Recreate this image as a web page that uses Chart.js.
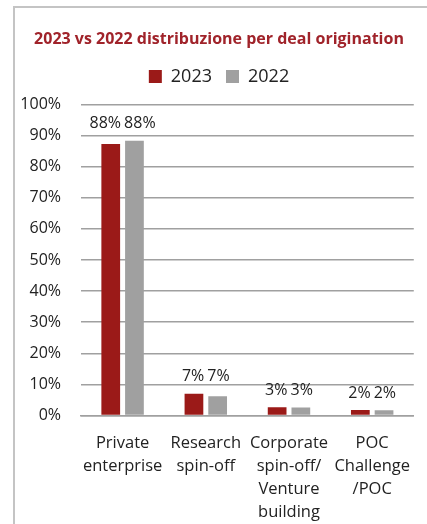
<!DOCTYPE html>
<html>
<head>
<meta charset="utf-8">
<script src="https://cdn.jsdelivr.net/npm/chart.js@4"></script>
<style>
  body { margin: 0; background: #fff; }
  #frame { position: absolute; left: 13px; top: 6px; width: 600px; height: 600px;
           border-left: 2px solid #c4c4c4; border-top: 2px solid #c4c4c4; }
  #wrap { position: absolute; left: 0; top: 0; width: 427px; height: 524px; }
</style>
</head>
<body>
<div id="frame"></div>
<div id="wrap"><canvas id="mychart"></canvas></div>
<script>
const categories = [['Private', 'enterprise'], ['Research', 'spin-off'], ['Corporate', 'spin-off/', 'Venture', 'building'], ['POC', 'Challenge', '/POC']];
const values2023 = [87.3, 7.0, 2.7, 1.8];
const values2022 = [88.3, 6.2, 2.6, 1.7];
const labels2023 = ['88%', '7%', '3%', '2%'];
const labels2022 = ['88%', '7%', '3%', '2%'];
const yTicks = [0, 10, 20, 30, 40, 50, 60, 70, 80, 90, 100];

const FONT = "'Open Sans', 'Noto Sans', sans-serif";

// value labels above each bar, same height within a group, pushed apart if they collide
const barLabels = {
    id: 'barLabels',
    afterDatasetsDraw(chart) {
        const c = chart.ctx;
        const m0 = chart.getDatasetMeta(0).data;
        const m1 = chart.getDatasetMeta(1).data;
        c.save();
        c.font = '16px ' + FONT;
        c.fillStyle = '#222';
        c.textAlign = 'center';
        c.textBaseline = 'bottom';
        for (let i = 0; i < m0.length; i++) {
            const top = Math.min(m0[i].y, m1[i].y);
            const y = top - 9;
            const w0 = c.measureText(labels2023[i]).width;
            const w1 = c.measureText(labels2022[i]).width;
            let x0 = m0[i].x, x1 = m1[i].x;
            const overlap = (x0 + w0 / 2 + 3) - (x1 - w1 / 2);
            if (overlap > 0) { x0 -= overlap / 2; x1 += overlap / 2; }
            c.fillText(labels2023[i], x0, y);
            c.fillText(labels2022[i], x1, y);
        }
        c.restore();
    }
};

const ctx = document.getElementById('mychart');
new Chart(ctx, {
    type: 'bar',
    data: {
        labels: categories,
        datasets: [{
            label: '2023',
            data: values2023,
            backgroundColor: '#9b1a18',
            barPercentage: 0.79,
            categoryPercentage: 0.57
        }, {
            label: '2022',
            data: values2022,
            backgroundColor: '#a0a0a0',
            barPercentage: 0.79,
            categoryPercentage: 0.57
        }]
    },
    options: {
        responsive: true,
        maintainAspectRatio: false,
        animation: false,
        layout: { padding: { left: 19, right: 8, top: 28, bottom: -16 } },
        plugins: {
            title: {
                display: true,
                text: '2023 vs 2022 distribuzione per deal origination',
                color: '#a0232a',
                font: { family: FONT, size: 16, weight: 'bold', lineHeight: 1.4 },
                padding: { top: 0, bottom: 3 }
            },
            legend: {
                labels: {
                    color: '#222',
                    font: { family: FONT, size: 18 },
                    boxWidth: 13,
                    boxHeight: 13,
                    padding: 14
                }
            },
            tooltip: { enabled: false }
        },
        scales: {
            x: {
                grid: { display: false, drawTicks: false },
                border: { color: '#a0a0a0', width: 1.5 },
                ticks: { color: '#222', font: { family: FONT, size: 16.5, lineHeight: 1.4 }, padding: 16, maxRotation: 0, autoSkip: false }
            },
            y: {
                min: 0,
                max: 102.9,
                afterBuildTicks(axis) { axis.ticks = yTicks.map(v => ({ value: v })); },
                afterFit(axis) { axis.width = 62; },
                grid: { color: '#a0a0a0', lineWidth: 1.5, drawTicks: false },
                border: { display: false },
                ticks: { color: '#222', font: { family: FONT, size: 16 }, padding: 20, callback: v => v + '%' }
            }
        }
    },
    plugins: [barLabels]
});
</script>
</body>
</html>
